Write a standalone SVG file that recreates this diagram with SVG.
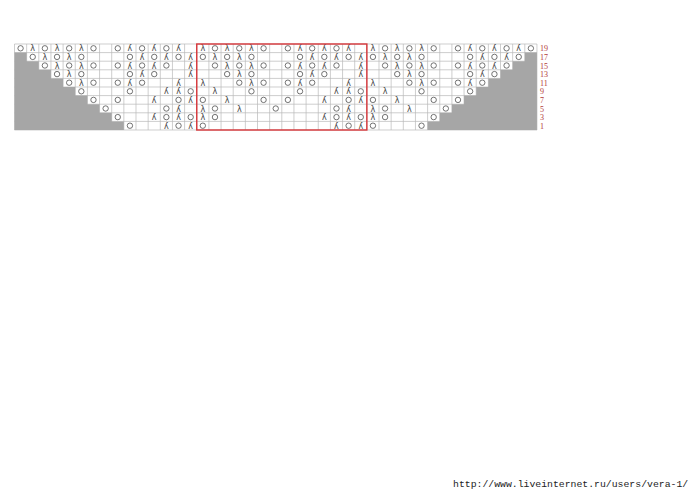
<svg xmlns="http://www.w3.org/2000/svg" xmlns:xlink="http://www.w3.org/1999/xlink" width="699" height="494" viewBox="0 0 699 494">
<style>
.yo{fill:none;stroke:#505050;stroke-width:0.8}
.dec{font-family:"DejaVu Sans",sans-serif;font-size:8px;fill:#444;text-anchor:middle}
.grid{fill:none;stroke:#b9b9b9;stroke-width:0.7}
.shade{fill:#a6a6a6;stroke:none}
.lab{font-family:"Liberation Serif",serif;font-size:8px;fill:#b23a3a}
.url{font-family:"Liberation Mono",monospace;font-size:9.8px;fill:#222}
</style>
<defs>
<circle id="o" r="2.7" class="yo"/>
<text id="l" class="dec" y="3">λ</text>
<use id="m" href="#l" transform="scale(-1,1)"/>
<g id="r19"><use href="#l" x="6.08"/><use href="#o" x="18.23"/><use href="#l" x="30.38"/><use href="#o" x="42.53"/><use href="#l" x="54.68"/><use href="#o" x="66.83"/><use href="#o" x="91.13"/><use href="#m" x="103.28"/><use href="#o" x="115.43"/><use href="#m" x="127.58"/><use href="#o" x="139.73"/><use href="#m" x="151.88"/></g>
<g id="r17"><use href="#o" x="6.08"/><use href="#l" x="18.23"/><use href="#o" x="30.38"/><use href="#l" x="42.53"/><use href="#o" x="54.68"/><use href="#o" x="103.28"/><use href="#m" x="115.43"/><use href="#o" x="127.58"/><use href="#m" x="139.73"/><use href="#o" x="151.88"/><use href="#m" x="164.03"/></g>
<g id="r15"><use href="#o" x="18.23"/><use href="#l" x="30.38"/><use href="#o" x="42.53"/><use href="#l" x="54.68"/><use href="#o" x="66.83"/><use href="#o" x="91.13"/><use href="#m" x="103.28"/><use href="#o" x="115.43"/><use href="#m" x="127.58"/><use href="#o" x="139.73"/><use href="#m" x="164.03"/></g>
<g id="r13"><use href="#o" x="30.38"/><use href="#l" x="42.53"/><use href="#o" x="54.68"/><use href="#o" x="103.28"/><use href="#m" x="115.43"/><use href="#o" x="127.58"/><use href="#m" x="164.03"/></g>
<g id="r11"><use href="#l" x="6.08"/><use href="#o" x="42.53"/><use href="#l" x="54.68"/><use href="#o" x="66.83"/><use href="#o" x="91.13"/><use href="#m" x="103.28"/><use href="#o" x="115.43"/><use href="#m" x="151.88"/></g>
<g id="r9"><use href="#l" x="18.23"/><use href="#o" x="54.68"/><use href="#o" x="103.28"/><use href="#m" x="139.73"/><use href="#m" x="151.88"/><use href="#o" x="164.03"/></g>
<g id="r7"><use href="#o" x="6.08"/><use href="#l" x="30.38"/><use href="#o" x="66.83"/><use href="#o" x="91.13"/><use href="#m" x="127.58"/><use href="#o" x="151.88"/><use href="#m" x="164.03"/></g>
<g id="r5"><use href="#l" x="6.08"/><use href="#o" x="18.23"/><use href="#l" x="42.53"/><use href="#o" x="78.98"/><use href="#o" x="139.73"/><use href="#m" x="151.88"/></g>
<g id="r3"><use href="#l" x="6.08"/><use href="#o" x="18.23"/><use href="#m" x="127.58"/><use href="#o" x="139.73"/><use href="#m" x="151.88"/><use href="#o" x="164.03"/></g>
<g id="r1"><use href="#o" x="6.08"/><use href="#m" x="139.73"/><use href="#o" x="151.88"/><use href="#m" x="164.03"/></g>
</defs>
<rect width="699" height="494" fill="#fff"/>
<g id="chart">
<path id="grid" class="grid" d="M14.5 44V130M26.65 44V130M38.8 44V130M50.95 44V130M63.1 44V130M75.25 44V130M87.4 44V130M99.55 44V130M111.7 44V130M123.85 44V130M136 44V130M148.15 44V130M160.3 44V130M172.45 44V130M184.6 44V130M196.75 44V130M208.9 44V130M221.05 44V130M233.2 44V130M245.35 44V130M257.5 44V130M269.65 44V130M281.8 44V130M293.95 44V130M306.1 44V130M318.25 44V130M330.4 44V130M342.55 44V130M354.7 44V130M366.85 44V130M379 44V130M391.15 44V130M403.3 44V130M415.45 44V130M427.6 44V130M439.75 44V130M451.9 44V130M464.05 44V130M476.2 44V130M488.35 44V130M500.5 44V130M512.65 44V130M524.8 44V130M536.95 44V130M14.5 44H536.95M14.5 52.6H536.95M14.5 61.2H536.95M14.5 69.8H536.95M14.5 78.4H536.95M14.5 87H536.95M14.5 95.6H536.95M14.5 104.2H536.95M14.5 112.8H536.95M14.5 121.4H536.95M14.5 130H536.95"/>
<g id="row19"><use href="#o" x="20.58" y="48.3"/><use href="#r19" x="26.65" y="48.3"/><use href="#r19" x="196.75" y="48.3"/><use href="#r19" x="366.85" y="48.3"/><use href="#o" x="530.88" y="48.3"/></g>
<g id="row17"><use href="#r17" x="26.65" y="56.9"/><use href="#r17" x="196.75" y="56.9"/><use href="#r17" x="366.85" y="56.9"/></g>
<g id="row15"><use href="#r15" x="26.65" y="65.5"/><use href="#r15" x="196.75" y="65.5"/><use href="#r15" x="366.85" y="65.5"/></g>
<g id="row13"><use href="#r13" x="26.65" y="74.1"/><use href="#r13" x="196.75" y="74.1"/><use href="#r13" x="366.85" y="74.1"/></g>
<g id="row11"><use href="#r11" x="26.65" y="82.7"/><use href="#r11" x="196.75" y="82.7"/><use href="#r11" x="366.85" y="82.7"/></g>
<g id="row9"><use href="#r9" x="26.65" y="91.3"/><use href="#r9" x="196.75" y="91.3"/><use href="#r9" x="366.85" y="91.3"/></g>
<g id="row7"><use href="#r7" x="26.65" y="99.9"/><use href="#r7" x="196.75" y="99.9"/><use href="#r7" x="366.85" y="99.9"/></g>
<g id="row5"><use href="#r5" x="26.65" y="108.5"/><use href="#r5" x="196.75" y="108.5"/><use href="#r5" x="366.85" y="108.5"/></g>
<g id="row3"><use href="#o" x="117.78" y="117.1"/><use href="#r3" x="26.65" y="117.1"/><use href="#r3" x="196.75" y="117.1"/><use href="#r3" x="366.85" y="117.1"/><use href="#o" x="433.68" y="117.1"/></g>
<g id="row1"><use href="#o" x="129.93" y="125.7"/><use href="#r1" x="26.65" y="125.7"/><use href="#r1" x="196.75" y="125.7"/><use href="#r1" x="366.85" y="125.7"/><use href="#o" x="421.53" y="125.7"/></g>
<polygon id="shade-left" class="shade" points="14.5,52.6 26.65,52.6 26.65,61.2 38.8,61.2 38.8,69.8 50.95,69.8 50.95,78.4 63.1,78.4 63.1,87 75.25,87 75.25,95.6 87.4,95.6 87.4,104.2 99.55,104.2 99.55,112.8 111.7,112.8 111.7,121.4 123.85,121.4 123.85,130 14.5,130"/>
<polygon id="shade-right" class="shade" points="536.95,52.6 524.8,52.6 524.8,61.2 512.65,61.2 512.65,69.8 500.5,69.8 500.5,78.4 488.35,78.4 488.35,87 476.2,87 476.2,95.6 464.05,95.6 464.05,104.2 451.9,104.2 451.9,112.8 439.75,112.8 439.75,121.4 427.6,121.4 427.6,130 536.95,130"/>
<rect id="repeat" x="196.75" y="44" width="170.1" height="86" fill="none" stroke="#d8363a" stroke-width="1.4"/>
</g>
<g id="labels">
<text class="lab" x="540" y="51.3">19</text>
<text class="lab" x="540" y="59.9">17</text>
<text class="lab" x="540" y="68.5">15</text>
<text class="lab" x="540" y="77.1">13</text>
<text class="lab" x="540" y="85.7">11</text>
<text class="lab" x="540" y="94.3">9</text>
<text class="lab" x="540" y="102.9">7</text>
<text class="lab" x="540" y="111.5">5</text>
<text class="lab" x="540" y="120.1">3</text>
<text class="lab" x="540" y="128.7">1</text>
</g>
<text class="url" x="453" y="487">http://www.liveinternet.ru/users/vera-1/</text>
</svg>
